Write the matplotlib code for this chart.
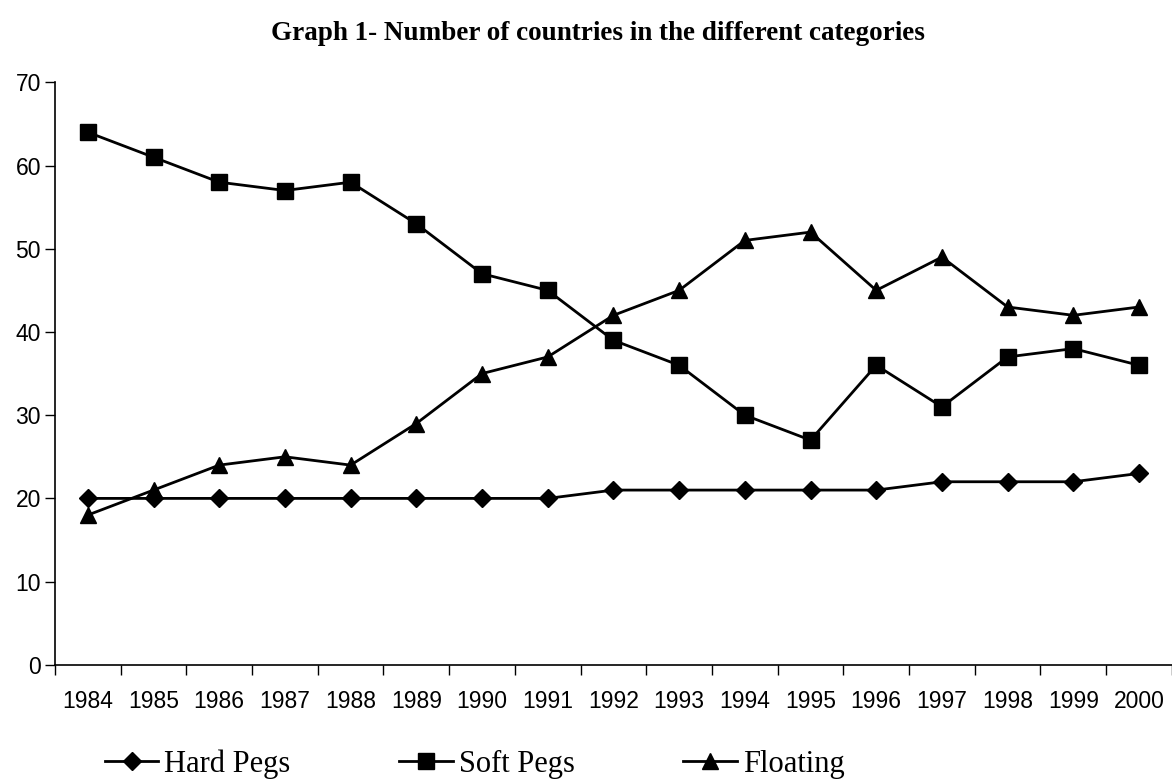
import numpy as np
import matplotlib
matplotlib.use("Agg")
import matplotlib.pyplot as plt
from matplotlib.lines import Line2D

years = [str(y) for y in range(1984, 2001)]
hard_pegs = [20, 20, 20, 20, 20, 20, 20, 20, 21, 21, 21, 21, 21, 22, 22, 22, 23]
soft_pegs = [64, 61, 58, 57, 58, 53, 47, 45, 39, 36, 30, 27, 36, 31, 37, 38, 36]
floating = [18, 21, 24, 25, 24, 29, 35, 37, 42, 45, 51, 52, 45, 49, 43, 42, 43]

fig = plt.figure(figsize=(11.72, 7.84), dpi=100)
ax = fig.add_axes([0.0469, 0.152, 0.953, 0.743])

x = np.arange(len(years))
ax.plot(x, hard_pegs, color="black", lw=2, marker="D", ms=9, label="Hard Pegs")
ax.plot(x, soft_pegs, color="black", lw=2, marker="s", ms=11.5, label="Soft Pegs")
ax.plot(x, floating, color="black", lw=2, marker="^", ms=12, label="Floating")

ax.set_xlim(-0.5, len(years) - 0.5)
ax.set_ylim(0, 70)
ax.set_yticks(range(0, 71, 10))
ax.set_xticks(x)
ax.set_xticklabels(years)
ax.set_xticks(np.arange(-0.5, len(years)), minor=True)
ax.tick_params(axis="x", which="major", length=0, pad=18)
ax.tick_params(axis="x", which="minor", length=7, direction="out", width=1)
ax.tick_params(axis="y", length=7, direction="out", width=1, pad=3)
for lab in ax.get_xticklabels() + ax.get_yticklabels():
    lab.set_fontfamily("Liberation Sans")
    lab.set_fontsize(16.5)
for s in ["top", "right"]:
    ax.spines[s].set_visible(False)
for s in ["left", "bottom"]:
    ax.spines[s].set_linewidth(1.2)

fig.text(0.51, 0.957, "Graph 1- Number of countries in the different categories",
         ha="center", va="center", fontsize=19.5, fontweight="bold",
         family="Liberation Serif")

handles = [
    Line2D([], [], color="black", lw=2, marker="D", ms=9),
    Line2D([], [], color="black", lw=2, marker="s", ms=11.5),
    Line2D([], [], color="black", lw=2, marker="^", ms=12),
]
fig.legend(handles, ["Hard Pegs", "Soft Pegs", "Floating"], loc="center left",
           bbox_to_anchor=(0.066, 0.025), ncol=3, frameon=False,
           prop={"family": "Liberation Serif", "size": 22},
           handlelength=1.75, handletextpad=0.2, columnspacing=3.55)

fig.savefig("out.png", dpi=100)
